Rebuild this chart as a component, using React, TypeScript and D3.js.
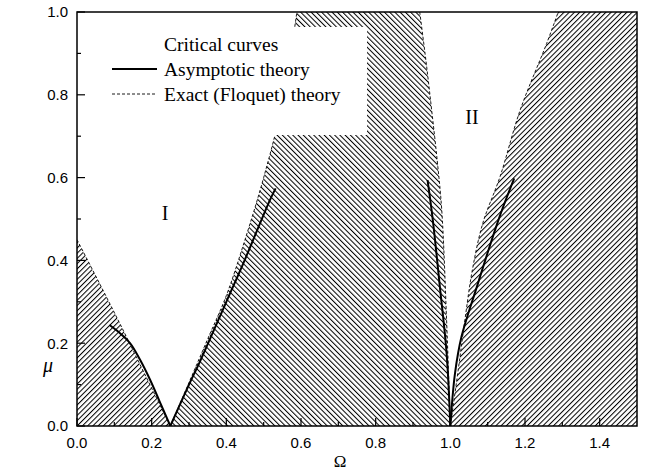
import React from "react";
import * as d3 from "d3";

// Exact (Floquet) boundaries  [Omega, mu]
const exactI_left: [number, number][] = [[0, 0.45], [0.06, 0.345], [0.12, 0.238], [0.18, 0.128], [0.25, 0]];
const exactI_right: [number, number][] = [[0.25, 0], [0.3, 0.105], [0.35, 0.21], [0.4, 0.315], [0.45, 0.45], [0.5, 0.6], [0.55, 0.78], [0.589, 1.0]];
const exactII_left: [number, number][] = [[0.918, 1.0], [0.935, 0.88], [0.95, 0.763], [0.965, 0.64], [0.977, 0.522], [0.99, 0.256], [1.0, 0]];
const exactII_right: [number, number][] = [[1.0, 0], [1.021, 0.135], [1.039, 0.256], [1.059, 0.377], [1.087, 0.49], [1.133, 0.602], [1.187, 0.763], [1.258, 0.924], [1.289, 1.0]];

// Asymptotic theory curves
const asymI_left: [number, number][] = [[0.087, 0.244], [0.11, 0.228], [0.142, 0.2], [0.17, 0.158], [0.196, 0.111], [0.22, 0.062], [0.25, 0]];
const asymI_right: [number, number][] = [[0.25, 0], [0.3, 0.1], [0.329, 0.155], [0.4, 0.3], [0.4455, 0.393], [0.517, 0.546], [0.532, 0.574]];
const asymII_left: [number, number][] = [[0.939, 0.594], [0.953, 0.498], [0.972, 0.336], [0.99, 0.176], [1.0, 0]];
const asymII_right: [number, number][] = [[1.0, 0], [1.0125, 0.127], [1.03, 0.216], [1.071, 0.336], [1.129, 0.498], [1.171, 0.598]];

const xMajor = [0, 0.2, 0.4, 0.6, 0.8, 1.0, 1.2, 1.4];
const xMinor = [0.1, 0.3, 0.5, 0.7, 0.9, 1.1, 1.3];
const yMajor = [0, 0.2, 0.4, 0.6, 0.8, 1.0];
const yMinor = [0.1, 0.3, 0.5, 0.7, 0.9];

const legendTitle = "Critical curves";
const legendItems = ["Asymptotic theory", "Exact (Floquet) theory"];

const W = 648, H = 472;
const L = 77, R = 637, T = 12, B = 426;

export default function App() {
  const x = d3.scaleLinear().domain([0, 1.5]).range([L, R]);
  const y = d3.scaleLinear().domain([0, 1]).range([B, T]);
  const line = d3.line<[number, number]>().x(d => x(d[0])).y(d => y(d[1])).curve(d3.curveCatmullRom.alpha(0.5));
  const P = (a: number, b: number) => `${x(a)},${y(b)}`;

  const leftRegion = line(exactI_left)! + ` L${P(0, 0)} Z`;
  const midRegion = line(exactI_right)! + ` L${P(exactII_left[0][0], 1)} ` + line(exactII_left)!.replace(/^M/, "L") + " Z";
  const rightRegion = line(exactII_right)! + ` L${P(1.5, 1)} L${P(1.5, 0)} Z`;

  const sans = "'Liberation Sans', Arial, sans-serif";
  const serif = "'Liberation Serif', 'Times New Roman', serif";
  const fmt = d3.format(".1f");

  return (
    <svg width={W} height={H} style={{ position: "absolute", left: 0, top: 0, background: "#fff" }}>
      <defs>
        <pattern id="hatchF" width={3.7} height={10} patternUnits="userSpaceOnUse" patternTransform="rotate(45)">
          <line x1={0.5} y1={0} x2={0.5} y2={10} stroke="#000" strokeWidth={1.05} />
        </pattern>
        <pattern id="hatchB" width={3.7} height={10} patternUnits="userSpaceOnUse" patternTransform="rotate(-45)">
          <line x1={0.5} y1={0} x2={0.5} y2={10} stroke="#000" strokeWidth={1.05} />
        </pattern>
        <clipPath id="plotClip">
          <rect x={L} y={T} width={R - L} height={B - T} />
        </clipPath>
      </defs>
      <rect x={0} y={0} width={W} height={H} fill="#fff" />
      <g clipPath="url(#plotClip)">
        <path d={leftRegion} fill="url(#hatchF)" />
        <path d={midRegion} fill="url(#hatchB)" />
        <path d={rightRegion} fill="url(#hatchF)" />
        {[exactI_left, exactI_right, exactII_left, exactII_right].map((d, i) => (
          <path key={"e" + i} d={line(d)!} fill="none" stroke="#000" strokeWidth={0.9} strokeDasharray="3,2" />
        ))}
        <rect x={100} y={27} width={267} height={108} fill="#fff" />
        {[asymI_left, asymI_right, asymII_left, asymII_right].map((d, i) => (
          <path key={"a" + i} d={line(d)!} fill="none" stroke="#000" strokeWidth={2} />
        ))}
      </g>
      {/* legend */}
      <text x={164} y={50.5} fontFamily={serif} fontSize={19.5}>{legendTitle}</text>
      <line x1={112} x2={157} y1={69} y2={69} stroke="#000" strokeWidth={2} />
      <text x={164} y={75.5} fontFamily={serif} fontSize={19.5}>{legendItems[0]}</text>
      <line x1={112} x2={157} y1={94} y2={94} stroke="#000" strokeWidth={0.9} strokeDasharray="3,2" />
      <text x={164} y={100.5} fontFamily={serif} fontSize={19.5}>{legendItems[1]}</text>

      {/* region labels */}
      <text x={165} y={220} textAnchor="middle" fontFamily={serif} fontSize={20}>I</text>
      <text x={472} y={124} textAnchor="middle" fontFamily={serif} fontSize={20}>II</text>

      {/* frame */}
      <rect x={L} y={T} width={R - L} height={B - T} fill="none" stroke="#000" strokeWidth={1.5} />
      {xMajor.map(v => <line key={"xM" + v} x1={x(v)} x2={x(v)} y1={B} y2={B - 8} stroke="#000" strokeWidth={1.2} />)}
      {xMinor.map(v => <line key={"xm" + v} x1={x(v)} x2={x(v)} y1={B} y2={B - 4} stroke="#000" strokeWidth={1.2} />)}
      {yMajor.map(v => <line key={"yM" + v} x1={L} x2={L + 8} y1={y(v)} y2={y(v)} stroke="#000" strokeWidth={1.2} />)}
      {yMinor.map(v => <line key={"ym" + v} x1={L} x2={L + 4} y1={y(v)} y2={y(v)} stroke="#000" strokeWidth={1.2} />)}
      {xMajor.map(v => (
        <text key={"xl" + v} x={x(v)} y={447.5} textAnchor="middle" fontFamily={sans} fontSize={15}>{fmt(v)}</text>
      ))}
      {yMajor.map(v => (
        <text key={"yl" + v} x={68} y={y(v) + 5.3} textAnchor="end" fontFamily={sans} fontSize={15}>{fmt(v)}</text>
      ))}
      <text x={340} y={467} textAnchor="middle" fontFamily={serif} fontSize={17}>Ω</text>
      <text x={48} y={372} textAnchor="middle" fontFamily={serif} fontStyle="italic" fontSize={20}>μ</text>
    </svg>
  );
}
